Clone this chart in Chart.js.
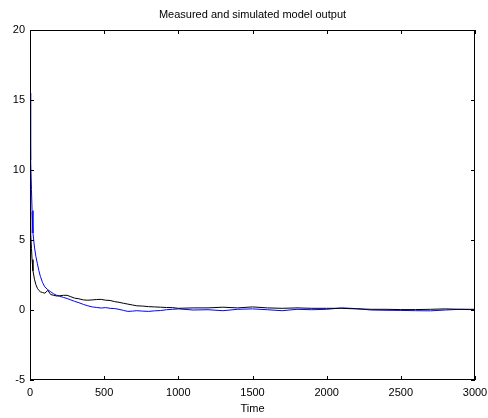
<!DOCTYPE html>
<html>
<head>
<meta charset="utf-8">
<script src="https://cdn.jsdelivr.net/npm/chart.js@4.4.1/dist/chart.umd.min.js"></script>
<style>
html,body{margin:0;padding:0;background:#fff;}
#wrap{width:488px;height:418px;}
</style>
</head>
<body>
<div id="wrap"><canvas id="c" width="488" height="418"></canvas></div>
<script>
const titleText = "Measured and simulated model output";
const xLabel = "Time";
const xTicks = [0, 500, 1000, 1500, 2000, 2500, 3000];
const yTicks = [-5, 0, 5, 10, 15, 20];

const times = [0,3,6,10,14,20,30,40,50,60,70,85,100,120,140,160,180,200,225,250,275,300,330,360,390,420,450,480,510,540,570,600,630,660,690,720,760,800,840,880,920,960,1000,
  1100,1200,1300,1400,1500,1600,1700,1800,1900,2000,2100,2200,2300,2400,2500,2600,2700,2800,2900,3000];

const measured = [7.0,6.2,5.5,4.4,3.6,2.8,2.2,1.8,1.55,1.4,1.3,1.25,1.2,1.4,1.1,1.05,1.0,1.02,1.05,1.05,0.95,0.85,0.8,0.72,0.7,0.72,0.75,0.76,0.7,0.68,0.6,0.55,0.48,0.42,0.36,0.3,0.28,0.24,0.22,0.2,0.18,0.17,0.12,
  0.15,0.15,0.2,0.15,0.22,0.15,0.12,0.15,0.12,0.12,0.12,0.08,0.05,0.05,0.03,0.03,0.05,0.08,0.05,0.05];

const simulated = [15.5,13.0,10.7,8.6,7.1,5.5,4.5,3.8,3.3,2.8,2.4,1.95,1.65,1.45,1.3,1.15,1.05,0.98,0.9,0.82,0.72,0.62,0.52,0.4,0.3,0.22,0.18,0.14,0.17,0.12,0.1,0.05,-0.03,-0.1,-0.08,-0.05,-0.08,-0.1,-0.06,-0.04,0.02,0.05,0.08,
  0.0,0.02,-0.05,0.05,0.08,0.02,-0.05,0.05,0.02,0.05,0.15,0.1,0.0,-0.02,-0.03,-0.05,-0.06,0.0,0.05,0.02];

const FONT = "Liberation Sans, Arial, sans-serif";

const boxPlugin = {
  id: 'matlabBox',
  afterDraw(chart) {
    const {ctx, chartArea: a, scales} = chart;
    const xs = scales.x, ys = scales.y;
    ctx.save();
    ctx.strokeStyle = '#000';
    ctx.lineWidth = 1;
    ctx.strokeRect(Math.round(a.left) + 0.5, Math.round(a.top) + 0.5,
                   Math.round(a.right - a.left) - 1, Math.round(a.bottom - a.top) - 1);
    const tl = 4;
    ctx.beginPath();
    xTicks.forEach(v => {
      const px = Math.round(xs.getPixelForValue(v)) + 0.5;
      ctx.moveTo(px, a.bottom); ctx.lineTo(px, a.bottom - tl);
      ctx.moveTo(px, a.top); ctx.lineTo(px, a.top + tl);
    });
    yTicks.forEach(v => {
      const py = Math.round(ys.getPixelForValue(v)) + 0.5;
      ctx.moveTo(a.left, py); ctx.lineTo(a.left + tl, py);
      ctx.moveTo(a.right, py); ctx.lineTo(a.right - tl, py);
    });
    ctx.stroke();
    ctx.fillStyle = '#000';
    ctx.font = "11px " + FONT;
    ctx.textAlign = 'center';
    ctx.textBaseline = 'middle';
    ctx.fillText(titleText, (a.left + a.right) / 2, 15);
    ctx.restore();
  }
};

new Chart(document.getElementById('c'), {
  type: 'line',
  data: {
    datasets: [
      {
        label: 'Measured',
        data: times.map((t, i) => ({x: t, y: measured[i]})),
        borderColor: '#000000',
        borderWidth: 1,
        pointRadius: 0,
        tension: 0,
        fill: false
      },
      {
        label: 'Simulated',
        data: times.map((t, i) => ({x: t, y: simulated[i]})),
        borderColor: '#0000ff',
        borderWidth: 1,
        pointRadius: 0,
        tension: 0,
        fill: false
      }
    ]
  },
  options: {
    responsive: false,
    animation: false,
    devicePixelRatio: 1,
    layout: {padding: {top: 30, right: 13, left: 0, bottom: 0}},
    plugins: {legend: {display: false}, title: {display: false}, tooltip: {enabled: false}},
    scales: {
      x: {
        type: 'linear',
        min: 0, max: 3000,
        afterBuildTicks: s => { s.ticks = xTicks.map(v => ({value: v})); },
        afterFit: s => { s.height = 38; s.paddingLeft = 0; s.paddingRight = 0; },
        grid: {display: false, drawTicks: false},
        border: {display: false},
        ticks: {color: '#000', font: {family: FONT, size: 11}, padding: 6, maxRotation: 0, autoSkip: false,
                callback: v => String(v)},
        title: {display: true, text: xLabel, color: '#000', font: {family: FONT, size: 11}, padding: {top: 2, bottom: 2}}
      },
      y: {
        type: 'linear',
        min: -5, max: 20,
        afterBuildTicks: s => { s.ticks = yTicks.map(v => ({value: v})); },
        afterFit: s => { s.width = 30; s.paddingTop = 0; s.paddingBottom = 0; },
        grid: {display: false, drawTicks: false},
        border: {display: false},
        ticks: {color: '#000', font: {family: FONT, size: 11}, padding: 5, autoSkip: false,
                callback: v => String(v)}
      }
    }
  },
  plugins: [boxPlugin]
});
</script>
</body>
</html>
